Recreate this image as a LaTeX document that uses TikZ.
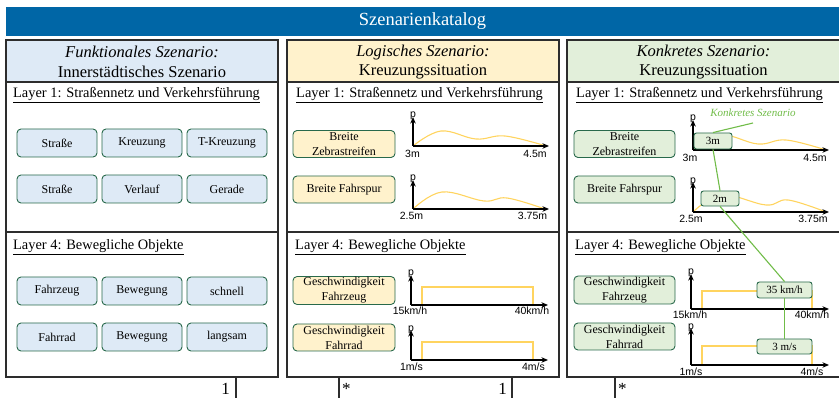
\documentclass[tikz,border=0pt]{standalone}
\usepackage{fontspec}
\setmainfont{Liberation Serif}
\newfontfamily\axisfont{Liberation Sans}
\usetikzlibrary{arrows.meta}

\definecolor{hdrblue}{RGB}{0,102,166}
\definecolor{funcfill}{RGB}{222,234,246}
\definecolor{logfill}{RGB}{255,242,204}
\definecolor{konfill}{RGB}{226,239,218}
\definecolor{boxedge}{RGB}{40,105,75}
\definecolor{curvecol}{RGB}{255,212,95}
\definecolor{konkgreen}{RGB}{112,188,72}
\definecolor{paneledge}{RGB}{45,45,45}

\tikzset{
  titlebar/.style={fill=hdrblue, text=white, minimum width=833pt, minimum height=29pt,
    inner sep=0pt, font=\fontsize{18.5}{20}\selectfont},
  panel/.style={draw=paneledge, line width=1.1pt},
  hdrtext/.style={align=center, inner sep=0pt, font=\fontsize{16.5}{19.5}\selectfont},
  layertext/.style={anchor=base west, inner sep=0pt, font=\fontsize{14.4}{16}\selectfont},
  tag/.style={draw=boxedge, line width=0.9pt, rounded corners=4pt, align=center,
    inner sep=1pt, font=\fontsize{12}{15}\selectfont},
  functag/.style={tag, fill=funcfill, minimum width=80pt, minimum height=28pt},
  logtag/.style={tag, fill=logfill, minimum width=102pt, minimum height=27pt},
  kontag/.style={tag, fill=konfill, minimum width=101pt, minimum height=27pt},
  valtag/.style={draw=boxedge, fill=konfill, line width=0.9pt, rounded corners=2.5pt,
    inner sep=0pt, font=\fontsize{11}{12}\selectfont},
  axis/.style={line width=1.1pt, -{Stealth[length=6.5pt,width=5.5pt]}},
  axlbl/.style={inner sep=0pt, font=\axisfont\fontsize{10.5}{11}\selectfont},
  pdfcurve/.style={draw=curvecol, line width=1.1pt},
  konline/.style={draw=konkgreen, line width=1.1pt},
  mult/.style={inner sep=0pt, font=\fontsize{17}{18}\selectfont},
}

\begin{document}
\begin{tikzpicture}[x=1pt,y=-1pt]
\useasboundingbox (0,0) rectangle (839,398);

% title bar
\node[titlebar] (title) at (422.5,21.5) {Szenarienkatalog};

% panel heads and frames
\fill[funcfill] (6,40) rectangle (278,82);
\fill[logfill] (287,40) rectangle (559,82);
\fill[konfill] (567,40) rectangle (842,82);
\draw[panel] (6,40) rectangle (278,377) (6,82) -- (278,82) (6,232) -- (278,232);
\draw[panel] (287,40) rectangle (559,377) (287,82) -- (559,82) (287,232) -- (559,232);
\draw[panel] (567,40) rectangle (842,377) (567,82) -- (842,82) (567,232) -- (842,232);

\node[hdrtext] (fhead) at (142,62) {\textit{Funktionales Szenario:}\\Innerstädtisches Szenario};
\node[hdrtext] (lhead) at (423,62) {\textit{Logisches Szenario:}\\Kreuzungssituation};
\node[hdrtext] (khead) at (703.5,62) {\textit{Konkretes Szenario:}\\Kreuzungssituation};

% layer captions
\node[layertext] (fl1) at (13,98) {\underline{Layer 1: Straßennetz und Verkehrsführung}};
\node[layertext] (fl4) at (13,250) {\underline{Layer 4: Bewegliche Objekte}};
\node[layertext] (ll1) at (296,98) {\underline{Layer 1: Straßennetz und Verkehrsführung}};
\node[layertext] (ll4) at (295,250) {\underline{Layer 4: Bewegliche Objekte}};
\node[layertext] (kl1) at (576,98) {\underline{Layer 1: Straßennetz und Verkehrsführung}};
\node[layertext] (kl4) at (575,250) {\underline{Layer 4: Bewegliche Objekte}};

% ---------- functional scenario ----------
\node[functag] (fa1) at (57,143) {Straße};
\node[functag] (fa2) at (142,143) {Kreuzung};
\node[functag] (fa3) at (227,143) {T-Kreuzung};
\node[functag] (fb1) at (57,189) {Straße};
\node[functag] (fb2) at (142,189) {Verlauf};
\node[functag] (fb3) at (227,189) {Gerade};
\node[functag] (fc1) at (57,291) {Fahrzeug};
\node[functag] (fc2) at (142,291) {Bewegung};
\node[functag] (fc3) at (227,291) {schnell};
\node[functag] (fd1) at (57,337) {Fahrrad};
\node[functag] (fd2) at (142,337) {Bewegung};
\node[functag] (fd3) at (227,337) {langsam};

% ---------- logical scenario ----------
\node[logtag] (la) at (344,144) {Breite\\Zebrastreifen};
\node[logtag] (lb) at (344,189.5) {Breite Fahrspur};
\node[logtag] (lc) at (344,290.5) {Geschwindigkeit\\Fahrzeug};
\node[logtag] (ld) at (344,337.5) {Geschwindigkeit\\Fahrrad};

% width of the zebra crossing
\coordinate (lao) at (413,146);
\draw[pdfcurve] plot[smooth, tension=0.65] coordinates {(413,146) (441,131) (476,139) (505,136) (546,146)};
\draw[axis] (lao) -- (413,117);
\draw[axis] (lao) -- (549,146);
\node[axlbl, anchor=south] (lap) at (413,120) {p};
\node[axlbl] (lamin) at (412.5,154) {3m};
\node[axlbl] (lamax) at (535,154) {4.5m};

% width of the lane
\coordinate (lbo) at (413,209);
\draw[pdfcurve] plot[smooth, tension=0.65] coordinates {(413,209) (442,192) (484,201) (507,198) (545,209)};
\draw[axis] (lbo) -- (413,180);
\draw[axis] (lbo) -- (549,209);
\node[axlbl, anchor=south] (lbp) at (413,183) {p};
\node[axlbl] (lbmin) at (411.5,216) {2.5m};
\node[axlbl] (lbmax) at (532.5,216) {3.75m};

% vehicle speed
\coordinate (lco) at (411,305);
\draw[pdfcurve] (422,305) -- (422,287) -- (533,287) -- (533,305);
\draw[axis] (lco) -- (411,275);
\draw[axis] (lco) -- (548,305);
\node[axlbl, anchor=south] (lcp) at (411,278) {p};
\node[axlbl] (lcmin) at (410,311) {15km/h};
\node[axlbl] (lcmax) at (532,311) {40km/h};

% bicycle speed
\coordinate (ldo) at (411,360);
\draw[pdfcurve] (422,360) -- (422,342) -- (533,342) -- (533,360);
\draw[axis] (ldo) -- (411,330);
\draw[axis] (ldo) -- (548,360);
\node[axlbl, anchor=south] (ldp) at (411,333.5) {p};
\node[axlbl] (ldmin) at (411.5,366.5) {1m/s};
\node[axlbl] (ldmax) at (533.5,366.5) {4m/s};

% ---------- concrete scenario ----------
\node[kontag] (ka) at (624.5,144) {Breite\\Zebrastreifen};
\node[kontag] (kb) at (624.5,189.5) {Breite Fahrspur};
\node[kontag] (kc) at (624.5,290) {Geschwindigkeit\\Fahrzeug};
\node[kontag] (kd) at (624.5,336.5) {Geschwindigkeit\\Fahrrad};

% width of the zebra crossing
\coordinate (kao) at (693,150);
\draw[pdfcurve] plot[smooth, tension=0.65] coordinates {(693,150) (721,135) (758,144) (786,140) (826,150)};
\draw[axis] (kao) -- (693,120);
\draw[axis] (kao) -- (829,150);
\node[axlbl, anchor=south] (kap) at (693,123) {p};
\node[axlbl] (kamin) at (690,157.5) {3m};
\node[axlbl] (kamax) at (815,157.5) {4.5m};
\node[valtag, minimum width=38pt, minimum height=16pt] (k3m) at (713,141) {3m};

% width of the lane
\coordinate (kbo) at (693,212);
\draw[pdfcurve] plot[smooth, tension=0.65] coordinates {(693,212) (722,195) (766,205) (788,200) (826,212)};
\draw[axis] (kbo) -- (693,182);
\draw[axis] (kbo) -- (829,212);
\node[axlbl, anchor=south] (kbp) at (693,185.5) {p};
\node[axlbl] (kbmin) at (691,218.5) {2.5m};
\node[axlbl] (kbmax) at (813,218.5) {3.75m};
\node[valtag, minimum width=38pt, minimum height=15pt] (k2m) at (720,198.5) {2m};

% vehicle speed
\coordinate (kco) at (691,309);
\draw[pdfcurve] (702,309) -- (702,291) -- (812,291) -- (812,309);
\draw[axis] (kco) -- (691,274);
\draw[axis] (kco) -- (829,309);
\node[axlbl, anchor=south] (kcp) at (691,277) {p};
\node[axlbl] (kcmin) at (690,315) {15km/h};
\node[axlbl] (kcmax) at (812,315) {40km/h};
\node[valtag, minimum width=55pt, minimum height=16pt] (k35) at (784.5,290) {35 km/h};

% bicycle speed
\coordinate (kdo) at (691,365);
\draw[pdfcurve] (702,365) -- (702,346) -- (812,346) -- (812,365);
\draw[axis] (kdo) -- (691,328);
\draw[axis] (kdo) -- (829,365);
\node[axlbl, anchor=south] (kdp) at (691,331.5) {p};
\node[axlbl] (kdmin) at (691,371.5) {1m/s};
\node[axlbl] (kdmax) at (812,371.5) {4m/s};
\node[valtag, minimum width=55pt, minimum height=15pt] (k3ms) at (784.5,346.5) {3 m/s};

% chain of chosen values
\node[inner sep=0pt, text=konkgreen, font=\itshape\fontsize{11}{12}\selectfont] (konlbl) at (753,113) {Konkretes Szenario};
\coordinate (konfoot) at (753,123);
\draw[konline] (konfoot) -- (k3m.north);
\draw[konline] (k3m.south) -- (k2m.north);
\draw[konline] (k2m.south) -- (k35.north);
\draw[konline] (k35.south) -- (k3ms.north);

% multiplicities below the panels
\coordinate (m1t) at (236,377); \coordinate (m1b) at (236,398);
\coordinate (m2t) at (339,377); \coordinate (m2b) at (339,398);
\coordinate (m3t) at (512,377); \coordinate (m3b) at (512,398);
\coordinate (m4t) at (615,377); \coordinate (m4b) at (615,398);
\draw[panel] (m1t) -- (m1b) (m2t) -- (m2b) (m3t) -- (m3b) (m4t) -- (m4b);
\node[mult, anchor=base east] (n1) at (230,394.5) {1};
\node[mult, anchor=base west] (n2) at (342,394.5) {*};
\node[mult, anchor=base east] (n3) at (507,394.5) {1};
\node[mult, anchor=base west] (n4) at (618,394.5) {*};
\end{tikzpicture}
\end{document}
